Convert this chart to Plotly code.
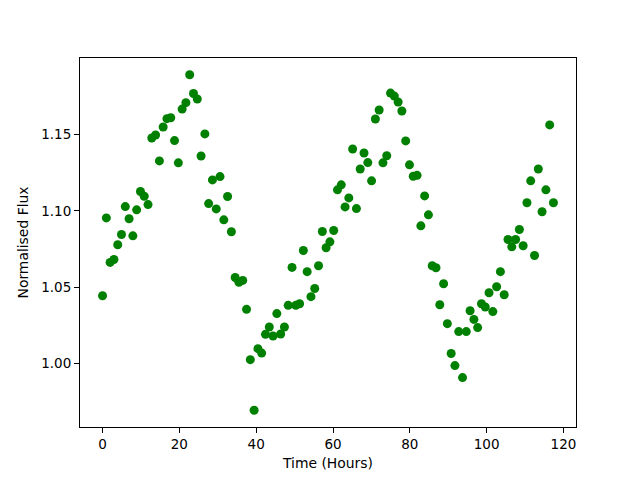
import plotly.graph_objects as go

time_hours = [
    0.00, 0.99, 1.97, 2.96, 3.95, 4.93, 5.92, 6.91, 7.89, 8.88,
    9.87, 10.85, 11.84, 12.82, 13.81, 14.80, 15.78, 16.77, 17.76, 18.74,
    19.73, 20.72, 21.70, 22.69, 23.68, 24.66, 25.65, 26.64, 27.62, 28.61,
    29.60, 30.58, 31.57, 32.55, 33.54, 34.53, 35.51, 36.50, 37.49, 38.47,
    39.46, 40.45, 41.43, 42.42, 43.41, 44.39, 45.38, 46.37, 47.35, 48.34,
    49.33, 50.31, 51.30, 52.28, 53.27, 54.26, 55.24, 56.23, 57.22, 58.20,
    59.19, 60.18, 61.16, 62.15, 63.14, 64.12, 65.11, 66.10, 67.08, 68.07,
    69.06, 70.04, 71.03, 72.01, 73.00, 73.99, 74.97, 75.96, 76.95, 77.93,
    78.92, 79.91, 80.89, 81.88, 82.87, 83.85, 84.84, 85.83, 86.81, 87.80,
    88.79, 89.77, 90.76, 91.74, 92.73, 93.72, 94.70, 95.69, 96.68, 97.66,
    98.65, 99.64, 100.62, 101.61, 102.60, 103.58, 104.57, 105.56, 106.54, 107.53,
    108.52, 109.50, 110.49, 111.47, 112.46, 113.45, 114.43, 115.42, 116.41, 117.39,
]

normalised_flux = [
    1.0443, 1.0954, 1.0662, 1.0681, 1.0778, 1.0845, 1.1028, 1.0948, 1.0836, 1.1007,
    1.1127, 1.1096, 1.1041, 1.1478, 1.1498, 1.1328, 1.1550, 1.1605, 1.1611, 1.1461,
    1.1315, 1.1668, 1.1710, 1.1893, 1.1770, 1.1734, 1.1360, 1.1505, 1.1048, 1.1203,
    1.1013, 1.1225, 1.0941, 1.1094, 1.0863, 1.0563, 1.0531, 1.0544, 1.0354, 1.0024,
    0.9692, 1.0096, 1.0067, 1.0190, 1.0238, 1.0179, 1.0326, 1.0192, 1.0238, 1.0380,
    1.0629, 1.0380, 1.0391, 1.0740, 1.0601, 1.0437, 1.0491, 1.0640, 1.0865, 1.0758,
    1.0797, 1.0871, 1.1138, 1.1171, 1.1026, 1.1085, 1.1406, 1.1015, 1.1275, 1.1380,
    1.1317, 1.1197, 1.1603, 1.1662, 1.1315, 1.1362, 1.1773, 1.1753, 1.1714, 1.1655,
    1.1459, 1.1302, 1.1227, 1.1233, 1.0902, 1.1098, 1.0974, 1.0640, 1.0627, 1.0384,
    1.0522, 1.0260, 1.0064, 0.9985, 1.0208, 0.9906, 1.0208, 1.0345, 1.0288, 1.0234,
    1.0391, 1.0369, 1.0463, 1.0339, 1.0502, 1.0601, 1.0450, 1.0812, 1.0764, 1.0812,
    1.0878, 1.0771, 1.1053, 1.1197, 1.0707, 1.1275, 1.0994, 1.1138, 1.1564, 1.1053,
]

x_ticks = [0, 20, 40, 60, 80, 100, 120]
y_ticks = [1.00, 1.05, 1.10, 1.15]

fig = go.Figure()
fig.add_trace(go.Scatter(
    x=time_hours, y=normalised_flux, mode="markers",
    marker=dict(color="#008000", size=9, line=dict(width=0)),
    showlegend=False,
))

axis_common = dict(
    showgrid=False, zeroline=False, showline=True, linecolor="black", linewidth=1,
    mirror=True, ticks="outside", ticklen=5, tickwidth=1, tickcolor="black",
    tickfont=dict(family="DejaVu Sans", size=13.5, color="black"),
)

fig.update_layout(
    width=640, height=480,
    margin=dict(l=72, r=72, t=50, b=61),
    paper_bgcolor="white", plot_bgcolor="white",
    font=dict(family="DejaVu Sans", size=13.9, color="black"),
    xaxis=dict(range=[-5.87, 123.26], tickvals=x_ticks,
               title=dict(text="Time (Hours)", standoff=7,
                          font=dict(family="DejaVu Sans", size=13.9)),
               **axis_common),
    yaxis=dict(range=[0.9582, 1.2003], tickvals=y_ticks, tickformat=".2f",
               title=dict(text="Normalised Flux", standoff=9,
                          font=dict(family="DejaVu Sans", size=13.9)),
               **axis_common),
)

fig.write_html("out.html")
